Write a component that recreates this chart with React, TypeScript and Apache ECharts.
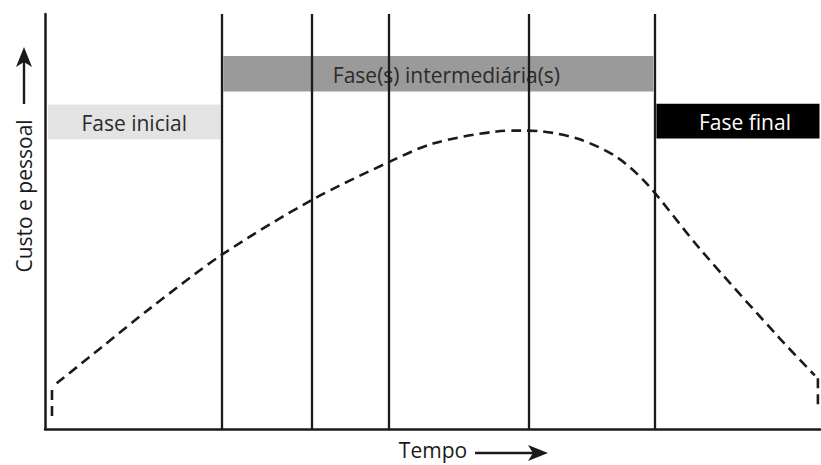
import React, { useEffect, useRef } from "react";
import * as echarts from "echarts";

// Time axis runs 0..100, "custo e pessoal" axis runs 0..100 (arbitrary units)
const curveX = [1.5, 7.1, 13.5, 22.8, 34.4, 44.3, 50.0, 58.2, 61.2, 64.2, 68.9, 73.7, 77.6, 84.4, 94.7, 99.2];
const curveY = [11.0, 19.4, 29.0, 42.0, 55.2, 64.3, 68.8, 71.7, 71.9, 71.7, 69.8, 65.5, 59.0, 43.4, 21.8, 12.9];
const startDropX = [0.9, 0.9];
const startDropY = [9.4, 1.9];
const endDropX = [99.6, 99.6];
const endDropY = [12.2, 5.0];

const phaseBoundaries = [22.8, 34.4, 44.3, 62.4, 78.6];

const phaseNames = ["Fase inicial", "Fase(s) intermediária(s)", "Fase final"];
const phaseStart = [0, 22.8, 78.6];
const phaseEnd = [22.8, 78.6, 100];
const phaseTop = [78.2, 89.9, 78.4];
const phaseBottom = [69.8, 81.3, 70.0];

const xAxisTitle = "Tempo";
const yAxisTitle = "Custo e pessoal";

const phaseFill = ["#e3e3e3", "#9a9a9a", "#000000"];
const phaseTextColor = ["#2b2b2b", "#2b2b2b", "#ffffff"];
const phaseTextShift = [0, 8, 7];
const FONT = "'Open Sans', 'Noto Sans', sans-serif";
const INK = "#1a1a1a";

export default function App() {
  const ref = useRef<HTMLDivElement>(null);

  useEffect(() => {
    document.body.style.margin = "0";
    const chart = echarts.init(ref.current!, null, { renderer: "svg" });

    const curve = curveX.map((x, i) => [x, curveY[i]]);
    const startDrop = startDropX.map((x, i) => [x, startDropY[i]]);
    const endDrop = endDropX.map((x, i) => [x, endDropY[i]]);
    const phases = phaseNames.map((n, i) => [phaseStart[i], phaseEnd[i], phaseTop[i], phaseBottom[i]]);

    const dashed = { color: INK, width: 2.6, type: [10, 6] as number[] };

    chart.setOption({
      animation: false,
      backgroundColor: "#ffffff",
      grid: { left: 45, right: 0, top: 14, bottom: 34 },
      xAxis: {
        type: "value",
        min: 0,
        max: 100,
        name: xAxisTitle,
        nameLocation: "middle",
        nameGap: 10,
        nameTextStyle: { fontFamily: FONT, fontSize: 21, color: INK },
        axisLine: { show: true, lineStyle: { color: INK, width: 2.5 } },
        axisTick: { show: false },
        axisLabel: { show: false },
        splitLine: { show: false },
      },
      yAxis: {
        type: "value",
        min: 0,
        max: 100,
        axisLine: { show: true, lineStyle: { color: INK, width: 2.5 } },
        axisTick: { show: false },
        axisLabel: { show: false },
        splitLine: { show: false },
      },
      series: [
        {
          type: "line",
          data: [],
          z: 1,
          silent: true,
          markLine: {
            silent: true,
            symbol: "none",
            label: { show: false },
            lineStyle: { color: INK, width: 2.3, type: "solid" },
            data: phaseBoundaries.map((v) => ({ xAxis: v })),
          },
        },
        {
          type: "custom",
          z: 3,
          silent: true,
          encode: { x: [0, 1], y: [2, 3] },
          data: phases,
          renderItem: (params: any, api: any) => {
            const i = params.dataIndex;
            const a = api.coord([api.value(0), api.value(2)]);
            const b = api.coord([api.value(1), api.value(3)]);
            const x0 = a[0] + (i === 0 ? 3 : 1.5);
            const x1 = b[0] - 1.5;
            return {
              type: "group",
              children: [
                {
                  type: "rect",
                  shape: { x: x0, y: a[1], width: x1 - x0, height: b[1] - a[1] },
                  style: { fill: phaseFill[i] },
                },
                {
                  type: "text",
                  style: {
                    text: phaseNames[i],
                    x: (x0 + x1) / 2 + phaseTextShift[i],
                    y: (a[1] + b[1]) / 2 + 1,
                    align: "center",
                    verticalAlign: "middle",
                    fill: phaseTextColor[i],
                    font: `21px ${FONT}`,
                  },
                },
              ],
            };
          },
        },
        {
          type: "line",
          z: 4,
          data: curve,
          smooth: 0.3,
          symbol: "none",
          lineStyle: dashed,
        },
        {
          type: "line",
          z: 4,
          data: startDrop,
          symbol: "none",
          lineStyle: dashed,
        },
        {
          type: "line",
          z: 4,
          data: endDrop,
          symbol: "none",
          lineStyle: dashed,
        },
      ],
      graphic: [
        {
          type: "text",
          x: 24,
          y: 196,
          rotation: Math.PI / 2,
          style: {
            text: yAxisTitle,
            align: "center",
            verticalAlign: "middle",
            fill: INK,
            font: `21px ${FONT}`,
          },
        },
        {
          type: "line",
          shape: { x1: 24, y1: 104, x2: 24, y2: 60 },
          style: { stroke: INK, lineWidth: 2.4 },
        },
        {
          type: "polygon",
          shape: { points: [[24, 47], [32, 67], [24, 62], [16, 67]] },
          style: { fill: INK },
        },
        {
          type: "line",
          shape: { x1: 475, y1: 453, x2: 535, y2: 453 },
          style: { stroke: INK, lineWidth: 2.4 },
        },
        {
          type: "polygon",
          shape: { points: [[548, 453], [528, 445], [533, 453], [528, 461]] },
          style: { fill: INK },
        },
      ],
    });

    return () => chart.dispose();
  }, []);

  return <div ref={ref} style={{ width: 821, height: 465 }} />;
}
